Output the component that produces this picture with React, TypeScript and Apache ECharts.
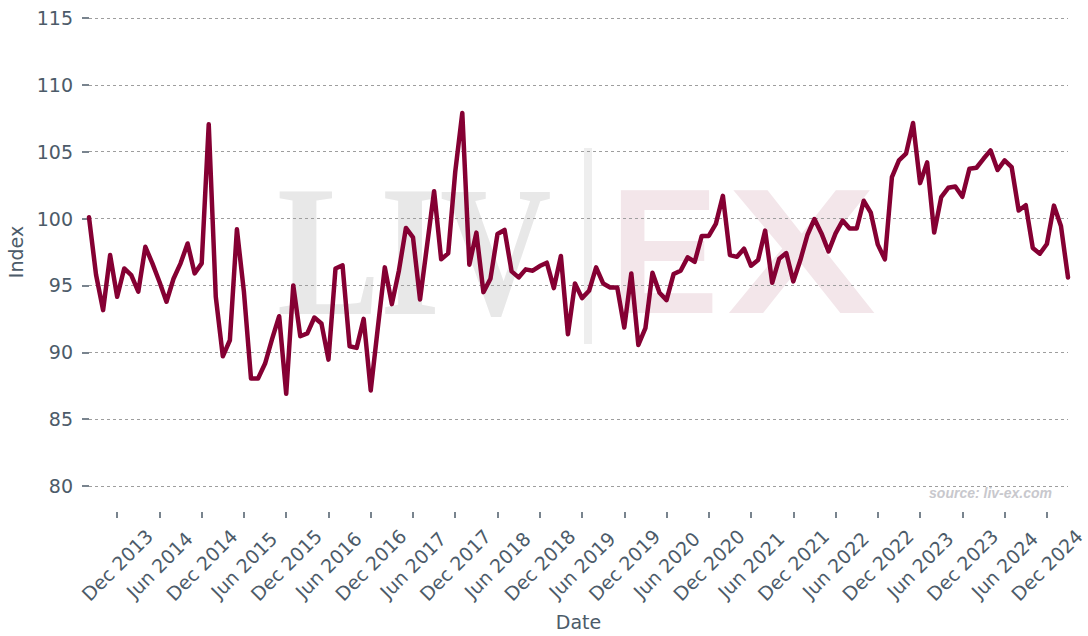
import React, { useEffect, useRef } from 'react';
import * as echarts from 'echarts';

const MONTH_NAMES = ['Jan', 'Feb', 'Mar', 'Apr', 'May', 'Jun', 'Jul', 'Aug', 'Sep', 'Oct', 'Nov', 'Dec'];
const START_YEAR = 2013;
const START_MONTH = 7; // Aug 2013

const indexValues = [
  100.1, 95.8, 93.15, 97.27, 94.15, 96.27, 95.77, 94.53, 97.89, 96.65,
  95.27, 93.78, 95.5, 96.65, 98.14, 95.9, 96.65, 107.05, 94.15, 89.7,
  90.9, 99.2, 94.5, 88.04, 88.04, 89.16, 91.0, 92.7, 86.9, 95.0,
  91.2, 91.41, 92.6, 92.16, 89.45, 96.27, 96.5, 90.45, 90.33, 92.5,
  87.15, 91.8, 96.35, 93.6, 96.1, 99.3, 98.6, 93.95, 98.0, 102.05,
  96.95, 97.4, 103.5, 107.9, 96.55, 98.95, 94.5, 95.5, 98.85, 99.15,
  96.05, 95.6, 96.2, 96.1, 96.45, 96.7, 94.8, 97.2, 91.35, 95.15,
  94.05, 94.6, 96.35, 95.15, 94.85, 94.85, 91.85, 95.9, 90.55, 91.8,
  95.95, 94.45, 93.9, 95.85, 96.1, 97.1, 96.77, 98.7, 98.7, 99.6,
  101.7, 97.27, 97.14, 97.75, 96.47, 96.9, 99.1, 95.2, 97.0, 97.42,
  95.3, 96.9, 98.77, 99.97, 98.89, 97.55, 98.89, 99.85, 99.26, 99.26,
  101.33, 100.44, 98.05, 96.95, 103.1, 104.35, 104.85, 107.15, 102.65, 104.2,
  98.95, 101.6, 102.3, 102.4, 101.63, 103.72, 103.8, 104.47, 105.1, 103.63,
  104.35, 103.85, 100.6, 101.0, 97.8, 97.37, 98.1, 100.97, 99.44, 95.6,
];

const tickLabels = [
  'Dec 2013', 'Jun 2014', 'Dec 2014', 'Jun 2015', 'Dec 2015', 'Jun 2016',
  'Dec 2016', 'Jun 2017', 'Dec 2017', 'Jun 2018', 'Dec 2018', 'Jun 2019',
  'Dec 2019', 'Jun 2020', 'Dec 2020', 'Jun 2021', 'Dec 2021', 'Jun 2022',
  'Dec 2022', 'Jun 2023', 'Dec 2023', 'Jun 2024', 'Dec 2024',
];

const categories = indexValues.map((_, i) => {
  const m = START_MONTH + i;
  return MONTH_NAMES[m % 12] + ' ' + (START_YEAR + Math.floor(m / 12));
});

const SLATE = '#4c5b69';
const FONT = 'DejaVu Sans';

export default function App() {
  const ref = useRef<HTMLDivElement>(null);

  useEffect(() => {
    if (!ref.current) return;
    const chart = echarts.init(ref.current, undefined, { renderer: 'svg' });
    const showTick = (_i: number, v: string) => tickLabels.indexOf(v) >= 0;
    chart.setOption({
      animation: false,
      backgroundColor: '#ffffff',
      grid: { left: 89, right: 20, top: 18, bottom: 150, containLabel: false, outerBoundsMode: 'none' },
      xAxis: {
        type: 'category',
        data: categories,
        boundaryGap: false,
        offset: 26,
        axisLine: { show: false },
        axisTick: { show: true, length: 6, interval: showTick, lineStyle: { color: SLATE, width: 1.5 } },
        axisLabel: {
          interval: showTick,
          rotate: 45,
          align: 'center',
          verticalAlign: 'middle',
          margin: 53,
          fontSize: 19,
          fontFamily: FONT,
          color: SLATE,
        },
        splitLine: { show: false },
        name: 'Date',
        nameLocation: 'middle',
        nameGap: 100,
        nameTextStyle: { fontSize: 19, fontFamily: FONT, color: SLATE },
      },
      yAxis: {
        type: 'value',
        min: 80,
        max: 115,
        interval: 5,
        axisLine: { show: false },
        axisTick: { show: true, length: 7, lineStyle: { color: SLATE, width: 1.5 } },
        axisLabel: { margin: 16, fontSize: 19, fontFamily: FONT, color: SLATE },
        splitLine: { show: true, lineStyle: { type: [3, 3], color: '#9e9e9e', width: 1 } },
        name: 'Index',
        nameLocation: 'middle',
        nameGap: 63,
        nameRotate: 90,
        nameTextStyle: { fontSize: 19, fontFamily: FONT, color: SLATE },
      },
      series: [
        {
          type: 'line',
          data: indexValues,
          symbol: 'none',
          showSymbol: false,
          z: 5,
          lineStyle: { color: '#850033', width: 4.5, join: 'round', cap: 'round' },
        },
      ],
      graphic: [
        {
          type: 'text',
          z: -10,
          x: 277,
          y: 251,
          scaleX: 0.83,
          style: {
            text: 'LIV',
            fontFamily: 'Liberation Serif',
            fontWeight: 'bold',
            fontSize: 186,
            fill: '#e8e8e8',
            textAlign: 'left',
            textVerticalAlign: 'middle',
          },
        },
        {
          type: 'rect',
          z: -10,
          shape: { x: 584, y: 148, width: 8, height: 196 },
          style: { fill: '#eeeeee' },
        },
        {
          type: 'text',
          z: -10,
          x: 610,
          y: 251,
          scaleX: 0.91,
          style: {
            text: 'E',
            fontFamily: 'Liberation Sans',
            fontWeight: 'bold',
            fontSize: 179,
            fill: '#f3e6ea',
            textAlign: 'left',
            textVerticalAlign: 'middle',
          },
        },
        {
          type: 'text',
          z: -10,
          x: 727,
          y: 251,
          scaleX: 1.25,
          style: {
            text: 'X',
            fontFamily: 'Liberation Sans',
            fontWeight: 'bold',
            fontSize: 179,
            fill: '#f3e6ea',
            textAlign: 'left',
            textVerticalAlign: 'middle',
          },
        },
        {
          type: 'text',
          z: 1,
          x: 1052,
          y: 493,
          style: {
            text: 'source: liv-ex.com',
            fontFamily: 'Liberation Sans',
            fontWeight: 'bold',
            fontStyle: 'italic',
            fontSize: 14,
            fill: '#c8c8cd',
            textAlign: 'right',
            textVerticalAlign: 'middle',
          },
        },
      ],
    });
    return () => chart.dispose();
  }, []);

  return (
    <div
      ref={ref}
      style={{ position: 'absolute', left: 0, top: 0, width: 1088, height: 636 }}
    />
  );
}
